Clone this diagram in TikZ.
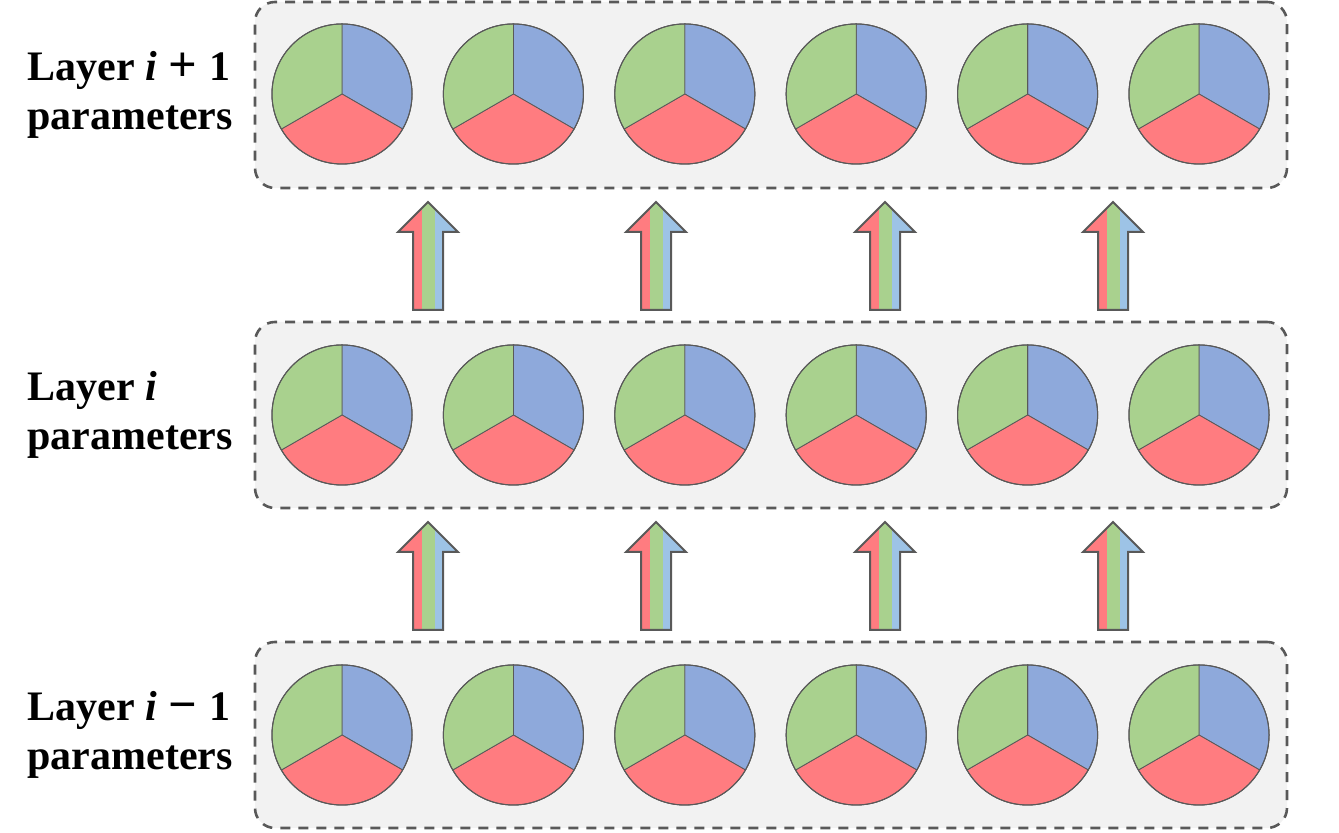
\documentclass[tikz,border=0pt]{standalone}
\usepackage{graphicx}
\usepackage{fontspec}
\setmainfont{Liberation Serif}
\definecolor{pblue}{HTML}{8EA9DB}
\definecolor{pred}{HTML}{FF7C80}
\definecolor{pgreen}{HTML}{A9D18E}
\definecolor{ablue}{HTML}{9DC3E6}
\definecolor{dgray}{HTML}{595959}
\definecolor{boxfill}{HTML}{F2F2F2}
\newcommand{\opsym}[1]{\hspace{6pt}\raisebox{-0.3pt}{\scalebox{1.2}{#1}}\hspace{6pt}}
\tikzset{
  layerbox/.style={draw=dgray, fill=boxfill, line width=1.3pt, dash pattern=on 5pt off 4pt,
    rounded corners=10pt, minimum width=516pt, minimum height=93pt, inner sep=0pt},
  pienode/.style={circle, draw=dgray, line width=0.5pt, minimum size=70pt, inner sep=0pt},
  sector/.style={draw=dgray, line width=0.4pt},
  lbl/.style={anchor=west, align=left, inner sep=0pt, font=\bfseries\fontsize{21pt}{24.5pt}\selectfont},
  arrowline/.style={draw=dgray, line width=1pt, line join=miter}
}
\begin{document}
\begin{tikzpicture}[x=0.5pt,y=0.5pt]
\useasboundingbox (0,0) rectangle (1339,833);
% boxes
\node[layerbox] (box3) at (771,738) {};
\node[layerbox] (box2) at (771,418) {};
\node[layerbox] (box1) at (771,98) {};
% labels
\node[lbl] (lab3) at (27,738) {Layer \textit{i}\opsym{+}1\\parameters};
\node[lbl] (lab2) at (27,418) {Layer \textit{i}\\parameters};
\node[lbl] (lab1) at (27,98) {Layer \textit{i}\opsym{−}1\\parameters};
% pies
\foreach \r/\Y in {1/98,2/418,3/739}{
  \foreach \k in {0,...,5}{
    \pgfmathsetmacro{\cx}{342+171.4*\k}
    \node[pienode] (p\r\k) at (\cx,\Y) {};
    \fill[pblue,sector] (p\r\k.center) -- ++(90:35pt) arc[start angle=90,end angle=-30,radius=35pt] -- cycle;
    \fill[pred,sector] (p\r\k.center) -- ++(-30:35pt) arc[start angle=-30,end angle=-150,radius=35pt] -- cycle;
    \fill[pgreen,sector] (p\r\k.center) -- ++(210:35pt) arc[start angle=210,end angle=90,radius=35pt] -- cycle;
    \draw[dgray, line width=0.5pt] (p\r\k.center) circle[radius=35pt];
  }
}
% arrows
\foreach \cx in {428,656,885,1113}{
  \foreach \yb in {203,523}{
    \coordinate (ab\cx-\yb) at (\cx,\yb);
    \begin{scope}
      \clip (\cx-15,\yb) -- (\cx-15,\yb+78) -- (\cx-30,\yb+78) -- (\cx,\yb+108) -- (\cx+30,\yb+78) -- (\cx+15,\yb+78) -- (\cx+15,\yb) -- cycle;
      \fill[pred] (\cx-31,\yb) rectangle (\cx-6,\yb+110);
      \fill[pgreen] (\cx-6,\yb) rectangle (\cx+7,\yb+110);
      \fill[ablue] (\cx+7,\yb) rectangle (\cx+31,\yb+110);
    \end{scope}
    \draw[arrowline] (ab\cx-\yb) ++(-15,0) -- ++(0,78) -- ++(-15,0) -- ++(30,30) -- ++(30,-30) -- ++(-15,0) -- ++(0,-78) -- cycle;
  }
}
\end{tikzpicture}
\end{document}
